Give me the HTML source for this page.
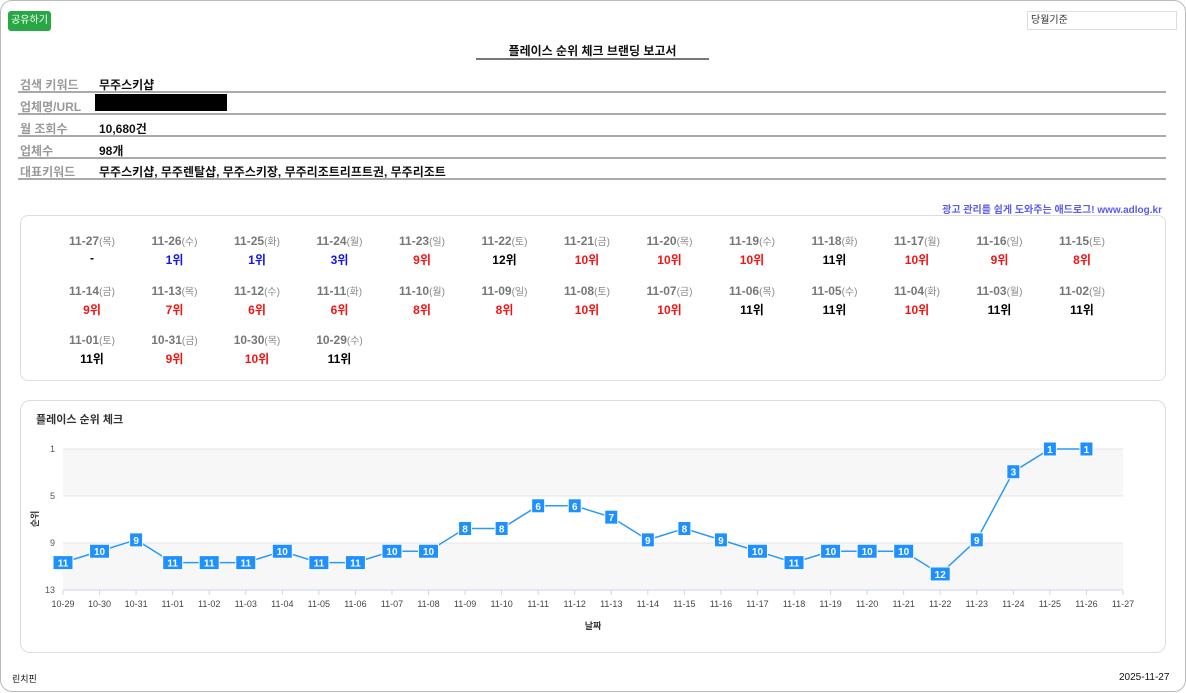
<!DOCTYPE html>
<html><head><meta charset="utf-8"><style>
*{box-sizing:border-box}
body{margin:0;width:1186px;height:693px;background:#fff;font-family:"Liberation Sans","Noto Sans CJK KR",sans-serif;position:relative;overflow:hidden}
.frame{position:absolute;left:0;top:0;width:1186px;height:692px;border:1px solid #bbb;border-radius:12px}
.abs{position:absolute}
.share{left:8px;top:11px;width:43px;height:20px;background:#28a745;border-radius:3px;color:#fff;font-size:10px;line-height:20px;text-align:center}
.sel{left:1027px;top:11px;width:150px;height:19px;border:1px solid #ddd;font-size:10px;line-height:17px;padding-left:3px;color:#333}
.title{left:476px;top:42px;width:233px;text-align:center;font-size:12px;font-weight:bold;color:#111;border-bottom:2px solid #777;padding-bottom:4px;height:18px}
.row{left:18px;width:1148px;height:22px;border-bottom:2px solid #aaa}
.row .l{position:absolute;left:2px;top:5px;font-size:12px;font-weight:bold;color:#999}
.row .v{position:absolute;left:81px;top:5px;font-size:12px;font-weight:bold;color:#111}
.ad{right:24px;top:201px;font-size:10px;font-weight:bold;color:#5b5be8}
.box{left:20px;top:215px;width:1146px;height:166px;border:1px solid #ddd;border-radius:8px}
.cell{position:absolute;width:90px;text-align:center}
.cell .d{font-size:12px;font-weight:bold;color:#777}
.cell .d span{font-weight:normal;font-size:10px;color:#888}
.cell .r{font-size:12px;font-weight:bold;margin-top:3px}
.cbox{left:20px;top:400px;width:1146px;height:253px;border:1px solid #ddd;border-radius:10px}
</style></head><body>
<div class="frame"></div>
<div class="abs share">공유하기</div>
<div class="abs sel">당월기준</div>
<div class="abs title">플레이스 순위 체크 브랜딩 보고서</div>
<div class="abs row" style="top:71px"><span class="l">검색 키워드</span><span class="v">무주스키샵</span></div>
<div class="abs row" style="top:93px"><span class="l">업체명/URL</span><span class="abs" style="left:77px;top:1px;width:132px;height:17px;background:#000"></span></div>
<div class="abs row" style="top:115px"><span class="l">월 조회수</span><span class="v">10,680건</span></div>
<div class="abs row" style="top:137px"><span class="l">업체수</span><span class="v">98개</span></div>
<div class="abs row" style="top:158px"><span class="l">대표키워드</span><span class="v">무주스키샵, 무주렌탈샵, 무주스키장, 무주리조트리프트권, 무주리조트</span></div>
<div class="abs ad">광고 관리를 쉽게 도와주는 애드로그! www.adlog.kr</div>
<div class="abs box" id="grid"></div>
<div class="abs cbox">
<div class="abs" style="left:15px;top:10px;font-size:11px;font-weight:bold;color:#333">플레이스 순위 체크</div>
</div>
<svg class="abs" style="left:0;top:0" width="1186" height="693" id="chart"></svg>
<div class="abs" style="left:12px;top:672px;font-size:9px;color:#111">린치핀</div>
<div class="abs" style="left:1119px;top:672px;font-size:10px;color:#111">2025-11-27</div>
<script>
const dates=["10-29","10-30","10-31","11-01","11-02","11-03","11-04","11-05","11-06","11-07","11-08","11-09","11-10","11-11","11-12","11-13","11-14","11-15","11-16","11-17","11-18","11-19","11-20","11-21","11-22","11-23","11-24","11-25","11-26","11-27"];
const ranks=[11,10,9,11,11,11,10,11,11,10,10,8,8,6,6,7,9,8,9,10,11,10,10,10,12,9,3,1,1,null];
const weekdays=["수","목","금","토","일","월","화","수","목","금","토","일","월","화","수","목","금","토","일","월","화","수","목","금","토","일","월","화","수","목"];
const yTicks=[1,5,9,13];
// grid
const grid=document.getElementById('grid');
for(let k=0;k<dates.length;k++){
  const i=dates.length-1-k;
  const c=document.createElement('div');c.className='cell';
  
  
  c.style.left=(26+(k%13)*82.5)+'px';c.style.top=(17+Math.floor(k/13)*49.5)+'px';
  const r=ranks[i];
  const col=r==null?'#000':r<=3?'#1515e6':r<=10?'#f01515':'#000';
  c.innerHTML='<div class="d">'+dates[i]+'<span>('+weekdays[i]+')</span></div><div class="r" style="color:'+col+'">'+(r==null?'-':r+'위')+'</div>';
  grid.appendChild(c);
}
// chart
const svg=document.getElementById('chart');const NS='http://www.w3.org/2000/svg';
const X0=63,X1=1123,Y0=449,Y1=590;
const x=i=>X0+(X1-X0)*i/(dates.length-1);
const y=v=>Y0+11.36*(v-1);
const yTick=(v)=>Y0+(Y1-Y0)*(v-1)/12;
function el(t,a,txt){const e=document.createElementNS(NS,t);for(const k in a)e.setAttribute(k,a[k]);if(txt!=null)e.textContent=txt;svg.appendChild(e);return e;}
let b=el('rect',{x:X0,y:yTick(1),width:X1-X0,height:yTick(5)-yTick(1),fill:'#f7f7f7'});
b=el('rect',{x:X0,y:yTick(9),width:X1-X0,height:yTick(13)-yTick(9),fill:'#f7f7f7'});
yTicks.forEach(v=>{
  let g=el('line',{x1:X0,x2:X1,y1:yTick(v),y2:yTick(v),stroke:'#e6e6e6'});
  let t=el('text',{x:X0-8,y:yTick(v)+3,'font-size':9,fill:'#555','text-anchor':'end'},v);
});
let ax=el('line',{x1:X0,x2:X1,y1:Y1,y2:Y1,stroke:'#ccd6eb'});
dates.forEach((d,i)=>{
  let tk=el('line',{x1:x(i),x2:x(i),y1:Y1,y2:Y1+5,stroke:'#ccd6eb'});
  let t=el('text',{x:x(i),y:Y1+17,'font-size':9,fill:'#444','text-anchor':'middle'},d);
});
let yt=el('text',{x:0,y:0,'font-size':9,'font-weight':'bold',fill:'#333','text-anchor':'middle',transform:'translate(38,519) rotate(-90)'},'순위');
let xt=el('text',{x:593,y:629,'font-size':9,'font-weight':'bold',fill:'#333','text-anchor':'middle'},'날짜');
const pts=ranks.map((r,i)=>r==null?null:x(i)+','+y(r)).filter(p=>p);
let ln=el('polyline',{points:pts.join(' '),fill:'none',stroke:'#2b9af3','stroke-width':1.5});
ranks.forEach((r,i)=>{if(r==null)return;
  const w=r>=10?20:13;
  let m=el('rect',{x:x(i)-w/2,y:y(r)-7,width:w,height:14,fill:'#1e90ff',stroke:'#fff','stroke-width':1});
  let t=el('text',{x:x(i),y:y(r)+4,'font-size':10,'font-weight':'bold',fill:'#fff','text-anchor':'middle'},r);
});
</script>
</body></html>
